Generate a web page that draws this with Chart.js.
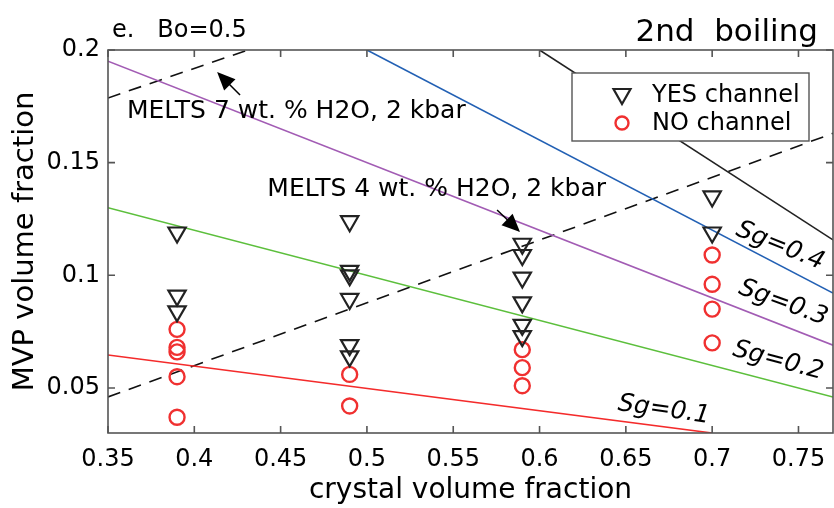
<!DOCTYPE html>
<html>
<head>
<meta charset="utf-8">
<script src="https://cdn.jsdelivr.net/npm/chart.js@4.4.1/dist/chart.umd.min.js"></script>
<style>
  html, body { margin: 0; padding: 0; background: #fff; }
</style>
</head>
<body>
<canvas id="chart" width="834" height="508"></canvas>
<script>
// tick labels
const xTicks = [0.35, 0.4, 0.45, 0.5, 0.55, 0.6, 0.65, 0.7, 0.75];
const yTicks = [0.05, 0.1, 0.15, 0.2];

// YES channel (triangles)
const yesX = [0.39, 0.39, 0.39,
              0.49, 0.49, 0.49, 0.49, 0.49, 0.49,
              0.59, 0.59, 0.59, 0.59, 0.59, 0.59,
              0.70, 0.70];
const yesY = [0.119, 0.091, 0.084,
              0.124, 0.102, 0.100, 0.0895, 0.069, 0.064,
              0.114, 0.109, 0.099, 0.088, 0.078, 0.073,
              0.135, 0.119];

// NO channel (circles)
const noX = [0.39, 0.39, 0.39, 0.39, 0.39,
             0.49, 0.49,
             0.59, 0.59, 0.59,
             0.70, 0.70, 0.70, 0.70];
const noY = [0.076, 0.068, 0.066, 0.055, 0.037,
             0.056, 0.042,
             0.067, 0.059, 0.051,
             0.109, 0.096, 0.085, 0.070];

// constant Sg lines (end points)
const sgLabels = ['Sg=0.1', 'Sg=0.2', 'Sg=0.3', 'Sg=0.4', ''];
const sgColors = ['#f42b2b', '#5cbf3c', '#a25cb4', '#2260b4', '#222222'];
const sgX = [[0.35, 0.70], [0.35, 0.77], [0.35, 0.77], [0.50, 0.77], [0.60, 0.77]];
const sgY = [[0.0646, 0.030], [0.130, 0.046], [0.195, 0.069], [0.200, 0.0921], [0.200, 0.1157]];

// MELTS curves (dashed)
const melts7X = [0.35, 0.431];
const melts7Y = [0.1787, 0.200];
const melts4X = [0.35, 0.77];
const melts4Y = [0.046, 0.163];

const FONT = "'DejaVu Sans', sans-serif";

const toPts = (xs, ys) => xs.map((x, i) => ({ x: x, y: ys[i] }));

const datasets = [
  {
    label: 'YES channel',
    data: toPts(yesX, yesY),
    pointStyle: 'triangle',
    rotation: 180,
    pointRadius: 10,
    borderColor: '#222',
    backgroundColor: 'rgba(0,0,0,0)',
    pointBorderWidth: 2.2,
    showLine: false
  },
  {
    label: 'NO channel',
    data: toPts(noX, noY),
    pointStyle: 'circle',
    pointRadius: 7.5,
    borderColor: '#f03030',
    backgroundColor: 'rgba(0,0,0,0)',
    pointBorderWidth: 2.4,
    showLine: false
  }
];

sgX.forEach((xs, i) => {
  datasets.push({
    label: sgLabels[i],
    data: toPts(xs, sgY[i]),
    showLine: true,
    pointRadius: 0,
    borderColor: sgColors[i],
    borderWidth: 1.6
  });
});

[[melts7X, melts7Y], [melts4X, melts4Y]].forEach(([xs, ys]) => {
  datasets.push({
    label: 'MELTS',
    data: toPts(xs, ys),
    showLine: true,
    pointRadius: 0,
    borderColor: '#111',
    borderWidth: 1.6,
    borderDash: [13, 9]
  });
});

// frame, inward ticks, annotations and legend
const extras = {
  id: 'extras',
  afterDraw(chart) {
    const ctx = chart.ctx;
    const a = chart.chartArea;
    const xs = chart.scales.x, ys = chart.scales.y;
    const px = v => xs.getPixelForValue(v);
    const py = v => ys.getPixelForValue(v);

    ctx.save();
    // box
    ctx.strokeStyle = '#555';
    ctx.lineWidth = 1.6;
    ctx.strokeRect(a.left, a.top, a.right - a.left, a.bottom - a.top);
    ctx.beginPath();
    xTicks.forEach(v => {
      const x = px(v);
      ctx.moveTo(x, a.bottom); ctx.lineTo(x, a.bottom - 7);
      ctx.moveTo(x, a.top); ctx.lineTo(x, a.top + 7);
    });
    yTicks.forEach(v => {
      const y = py(v);
      ctx.moveTo(a.left, y); ctx.lineTo(a.left + 7, y);
      ctx.moveTo(a.right, y); ctx.lineTo(a.right - 7, y);
    });
    ctx.stroke();

    // titles
    ctx.fillStyle = '#000';
    ctx.textBaseline = 'alphabetic';
    ctx.font = '24px ' + FONT;
    ctx.textAlign = 'left';
    ctx.fillText('e.   Bo=0.5', 112, 37);
    ctx.font = '31px ' + FONT;
    ctx.textAlign = 'right';
    ctx.fillText('2nd  boiling', 818, 41);

    // MELTS labels and arrows
    ctx.font = '25px ' + FONT;
    ctx.textAlign = 'left';
    ctx.textBaseline = 'middle';
    ctx.fillText('MELTS 7 wt. % H2O, 2 kbar', px(0.361), py(0.1725));
    ctx.fillText('MELTS 4 wt. % H2O, 2 kbar', px(0.4423), py(0.1379));

    const arrow = (x1, y1, x2, y2) => {
      const ax = px(x1), ay = py(y1), bx = px(x2), by = py(y2);
      const ang = Math.atan2(by - ay, bx - ax);
      const len = 18, wid = 8;
      ctx.strokeStyle = '#000';
      ctx.lineWidth = 1.5;
      ctx.beginPath();
      ctx.moveTo(ax, ay);
      ctx.lineTo(bx - Math.cos(ang) * len * 0.8, by - Math.sin(ang) * len * 0.8);
      ctx.stroke();
      ctx.beginPath();
      ctx.moveTo(bx, by);
      ctx.lineTo(bx - Math.cos(ang) * len + Math.sin(ang) * wid, by - Math.sin(ang) * len - Math.cos(ang) * wid);
      ctx.lineTo(bx - Math.cos(ang) * len - Math.sin(ang) * wid, by - Math.sin(ang) * len + Math.cos(ang) * wid);
      ctx.closePath();
      ctx.fillStyle = '#000';
      ctx.fill();
    };
    arrow(0.4265, 0.180, 0.4132, 0.1902);
    arrow(0.5754, 0.129, 0.5887, 0.1192);

    // Sg labels
    const sgPos = [[0.6721, 0.0402, 8], [0.7382, 0.062, 15], [0.7411, 0.0877, 20], [0.7393, 0.113, 22]];
    ctx.font = 'italic 25px ' + FONT;
    ctx.textAlign = 'center';
    ctx.textBaseline = 'middle';
    ctx.fillStyle = '#000';
    sgPos.forEach((p, i) => {
      ctx.save();
      ctx.translate(px(p[0]), py(p[1]));
      ctx.rotate(p[2] * Math.PI / 180);
      ctx.fillText(sgLabels[i], 0, 0);
      ctx.restore();
    });

    // legend
    const lx = a.right - 261, ly = a.top + 23, lw = 237, lh = 68;
    ctx.fillStyle = '#fff';
    ctx.fillRect(lx, ly, lw, lh);
    ctx.strokeStyle = '#555';
    ctx.lineWidth = 1.4;
    ctx.strokeRect(lx, ly, lw, lh);
    const mx = lx + 50;
    // triangle
    ctx.strokeStyle = '#222';
    ctx.lineWidth = 2.2;
    ctx.beginPath();
    ctx.moveTo(mx - 8.5, ly + 16);
    ctx.lineTo(mx + 8.5, ly + 16);
    ctx.lineTo(mx, ly + 31);
    ctx.closePath();
    ctx.stroke();
    // circle
    ctx.strokeStyle = '#f03030';
    ctx.lineWidth = 2.4;
    ctx.beginPath();
    ctx.arc(mx, ly + 50, 6.5, 0, Math.PI * 2);
    ctx.stroke();
    ctx.fillStyle = '#000';
    ctx.font = '24px ' + FONT;
    ctx.textAlign = 'left';
    ctx.textBaseline = 'middle';
    ctx.fillText('YES channel', lx + 80, ly + 23);
    ctx.fillText('NO channel', lx + 80, ly + 51);
    ctx.restore();
  }
};

new Chart(document.getElementById('chart'), {
  type: 'scatter',
  data: { datasets: datasets },
  options: {
    responsive: false,
    animation: false,
    devicePixelRatio: 1,
    layout: { autoPadding: false, padding: { top: 50, right: 1, left: 0, bottom: 0 } },
    plugins: {
      legend: { display: false },
      tooltip: { enabled: false }
    },
    scales: {
      x: {
        type: 'linear',
        min: 0.35,
        max: 0.77,
        afterBuildTicks: s => { s.ticks = xTicks.map(v => ({ value: v })); },
        afterFit: s => { s.height = 75; s.paddingLeft = 0; s.paddingRight = 0; },
        grid: { display: false, drawTicks: false },
        border: { display: false },
        ticks: {
          color: '#000',
          font: { family: FONT, size: 24 },
          padding: 12,
          maxRotation: 0,
          autoSkip: false,
          callback: v => String(v)
        },
        title: {
          display: true,
          text: 'crystal volume fraction',
          color: '#000',
          font: { family: FONT, size: 28 },
          padding: { top: 0, bottom: 0 }
        }
      },
      y: {
        type: 'linear',
        min: 0.03,
        max: 0.2,
        afterBuildTicks: s => { s.ticks = yTicks.map(v => ({ value: v })); },
        afterFit: s => { s.width = 108; s.paddingTop = 0; s.paddingBottom = 0; },
        grid: { display: false, drawTicks: false },
        border: { display: false },
        ticks: {
          color: '#000',
          font: { family: FONT, size: 24 },
          padding: 8,
          autoSkip: false,
          callback: v => String(v)
        },
        title: {
          display: true,
          text: 'MVP volume fraction',
          color: '#000',
          font: { family: FONT, size: 29 },
          padding: { top: 8, bottom: 0 }
        }
      }
    }
  },
  plugins: [extras]
});
</script>
</body>
</html>
